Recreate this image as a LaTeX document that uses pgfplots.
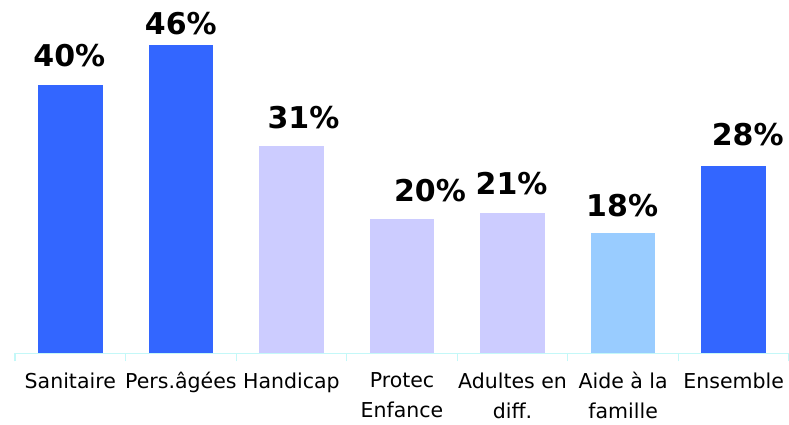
\documentclass[border=0pt]{standalone}
\usepackage{pgfplots}
\pgfplotsset{compat=1.18}
\usepackage{fontspec}
\setmainfont{DejaVu Sans}

\definecolor{barblue}{HTML}{3366FF}
\definecolor{barlav}{HTML}{CCCCFF}
\definecolor{barsky}{HTML}{99CCFF}
\definecolor{axcyan}{HTML}{C4F8F8}

\pgfplotsset{
  onebar/.style={ybar, bar shift=0pt, bar width=64.5pt, draw=none},
  lbl/.style 2 args={every node near coord/.append style={xshift=#1pt, yshift=#2pt}},
}

\begin{document}
\begin{tikzpicture}
\begin{axis}[
  scale only axis, width=774pt, height=335pt,
  xmin=-0.5, xmax=6.5, ymin=0, ymax=50,
  axis x line*=bottom, axis y line=none,
  /pgf/number format/assume math mode=true,
  xtick={0,...,6},
  xticklabels={Sanitaire, Pers.âgées, Handicap, Protec\\Enfance, Adultes en\\diff., Aide à la\\famille, Ensemble},
  major tick length=0pt,
  minor xtick={-0.5,0.5,...,6.5},
  minor tick length=8pt, tick align=outside,
  x axis line style={draw=axcyan, line width=1.2pt, -},
  minor tick style={draw=axcyan, line width=1.2pt},
  xticklabel style={font=\fontsize{20.5}{30}\selectfont, align=center, anchor=north, inner sep=0pt, yshift=-19pt},
  nodes near coords={\pgfmathprintnumber{\pgfplotspointmeta}\%},
  every node near coord/.append style={font=\fontsize{30}{30}\selectfont\bfseries, inner sep=0pt, anchor=south},
  clip=false,
]
% Sanitaire, Pers.agees, Handicap, Protec Enfance, Adultes, Aide famille, Ensemble
\addplot[onebar, fill=barblue, lbl={-1}{18}] coordinates {(0,40)};
\addplot[onebar, fill=barblue, lbl={0}{10}] coordinates {(1,46)};
\addplot[onebar, fill=barlav, lbl={12}{16}] coordinates {(2,31)};
\addplot[onebar, fill=barlav, lbl={28}{17}] coordinates {(3,20)};
\addplot[onebar, fill=barlav, lbl={-1}{17.5}] coordinates {(4,21)};
\addplot[onebar, fill=barsky, lbl={-1}{16}] coordinates {(5,18)};
\addplot[onebar, fill=barblue, lbl={14}{20}] coordinates {(6,28)};
\end{axis}
\pgfresetboundingbox
\path (-15pt,-70.7pt) rectangle (774pt,353.3pt);
\end{tikzpicture}
\end{document}
